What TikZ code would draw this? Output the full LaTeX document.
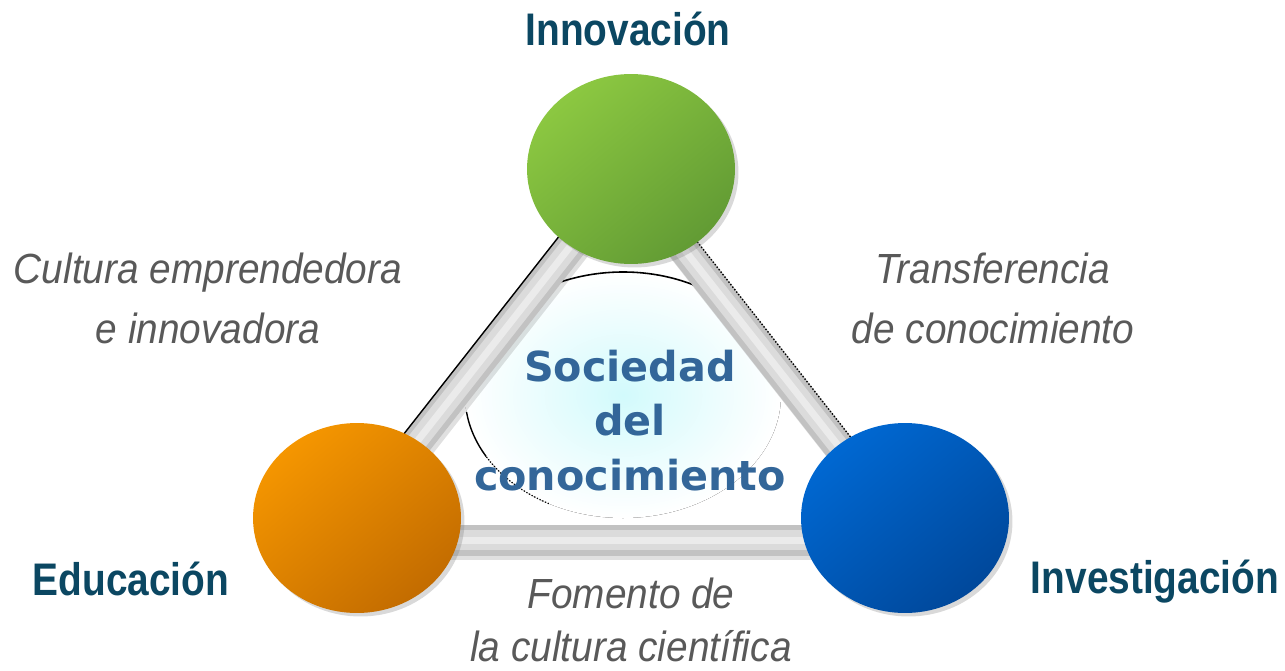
\documentclass[tikz,border=0pt]{standalone}
\usepackage{fontspec}
\usetikzlibrary{shapes.geometric,shadows}
\newfontfamily\lblfont[FakeStretch=0.85]{Liberation Sans}
\newfontfamily\itfont[FakeStretch=0.92]{Liberation Sans}
\newfontfamily\socfont{DejaVu Sans}
\definecolor{lbltext}{RGB}{11,71,98}
\definecolor{ittext}{RGB}{89,89,89}
\definecolor{soctext}{RGB}{51,102,153}
\definecolor{greenA}{RGB}{140,200,65}
\definecolor{greenB}{RGB}{98,155,52}
\definecolor{orangeA}{RGB}{245,150,0}
\definecolor{orangeB}{RGB}{195,108,0}
\definecolor{blueA}{RGB}{0,104,210}
\definecolor{blueB}{RGB}{0,72,155}
\definecolor{glow}{RGB}{210,250,252}
\def\rx{4.16cm}
\def\ry{3.8cm}
\def\bw{0.62cm}
\tikzset{
  ball/.style={ellipse, minimum width=\rx, minimum height=\ry, inner sep=0pt,
    drop shadow={shadow xshift=0.07cm, shadow yshift=-0.07cm, opacity=0.3}},
  bar/.style={line width=\bw, draw=black!24,
    preaction={draw=black, opacity=0.12, line width=\bw, transform canvas={xshift=0.05cm, yshift=-0.08cm}},
    postaction={draw=black!14, line width=0.4cm},
    postaction={draw=black!8, line width=0.14cm}},
  lbl/.style={anchor=base, text=lbltext, font=\lblfont\bfseries\fontsize{26}{30}\selectfont},
  itlbl/.style={anchor=base, align=center, text=ittext, font=\itfont\itshape\fontsize{24}{34}\selectfont}
}
\begin{document}
\begin{tikzpicture}[x=0.02cm, y=-0.02cm]
  \useasboundingbox (0,0) rectangle (1285,670);

  % centre glow
  \fill[inner color=glow, outer color=white] (623,395) ellipse [x radius=158, y radius=123];
  \draw[black, line width=0.9pt] (623,395) ++(215:158 and 123) arc [start angle=215, end angle=305, x radius=158, y radius=123];
  \draw[black, line width=0.8pt] (623,395) ++(150:158 and 123) arc [start angle=150, end angle=172, x radius=158, y radius=123];
  \draw[black, densely dotted, line width=0.7pt] (623,395) ++(118:158 and 123) arc [start angle=118, end angle=150, x radius=158, y radius=123];

  % the three balls (placed first, drawn over the bars below)
  \path (631,169) coordinate (innovc) (357,518) coordinate (educ) (905,518) coordinate (invesc);

  % bars
  \draw[bar] (educ) -- (innovc);
  \draw[bar] ([xshift=-0.2cm]innovc) -- ([xshift=-0.2cm]invesc);
  \draw[bar] ([yshift=-0.44cm]educ) -- ([yshift=-0.44cm]invesc);
  \draw[black, line width=0.8pt] ([shift={(-11.8,-9.3)}]educ) -- ([shift={(-11.8,-9.3)}]innovc);
  \draw[black, densely dotted, line width=0.8pt] ([shift={(1.8,-9.3)}]innovc) -- ([shift={(1.8,-9.3)}]invesc);

  \node[ball, top color=greenA, bottom color=greenB, shading angle=40] (innov) at (innovc) {};
  \node[ball, top color=orangeA, bottom color=orangeB, shading angle=40] (edu) at (educ) {};
  \node[ball, top color=blueA, bottom color=blueB, shading angle=40] (inves) at (invesc) {};

  % labels
  \node[lbl] (innovlbl) at (628,45) {Innovación};
  \node[lbl] (edulbl) at (131,595) {Educación};
  \node[lbl] (inveslbl) at (1155,593) {Investigación};

  % base = last line
  \node[itlbl] (cultlbl) at (208,343) {Cultura emprendedora\\e innovadora};
  \node[itlbl] (translbl) at (993,343) {Transferencia\\de conocimiento};
  \node[itlbl, font=\itfont\itshape\fontsize{24}{30}\selectfont] (fomlbl) at (631,661) {Fomento de\\la cultura científica};

  \node[anchor=base, align=center, text=soctext, font=\socfont\bfseries\fontsize{23.5}{31}\selectfont] (soclbl) at (630,490) {Sociedad\\del\\conocimiento};
\end{tikzpicture}
\end{document}
